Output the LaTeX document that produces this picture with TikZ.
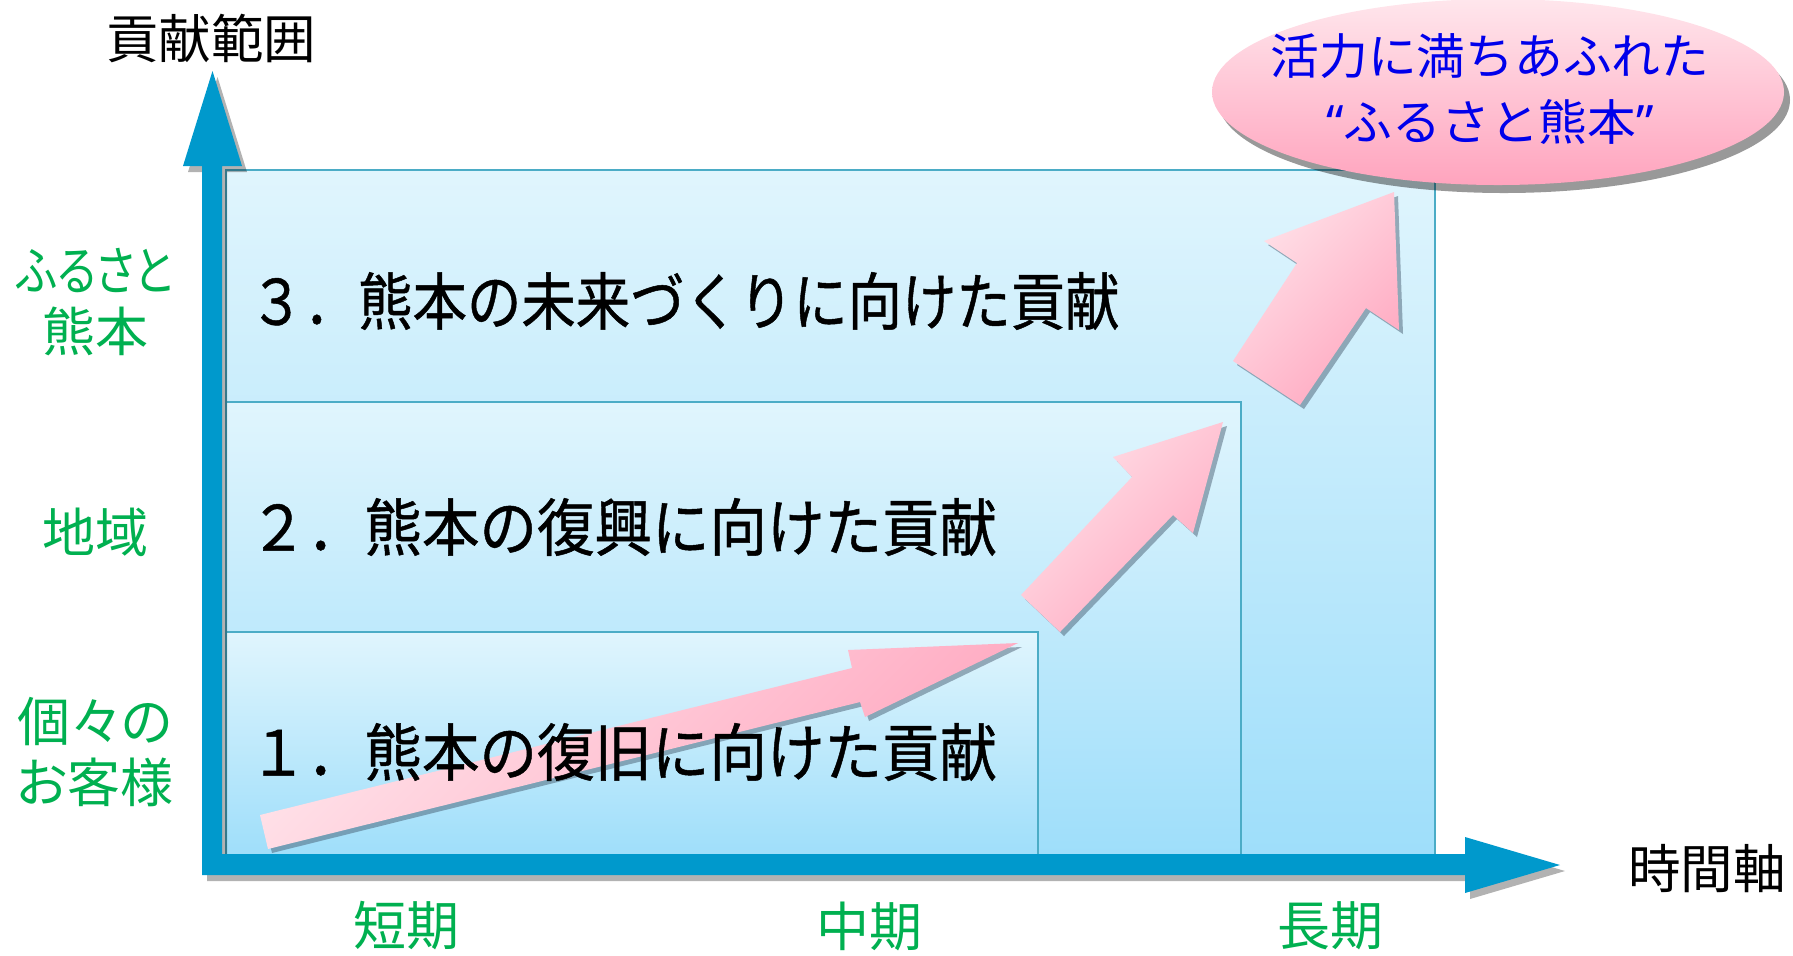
\documentclass[tikz,border=0pt]{standalone}
\usepackage{fontspec}
\newfontfamily\jp{Noto Sans CJK JP}
\newfontfamily\jpb{Noto Sans CJK JP}[FakeBold=0.8]
\newfontfamily\jpp{Noto Sans CJK JP}[RawFeature=+palt]
\newfontfamily\quotefont{Noto Sans}
\usetikzlibrary{shadows,shapes.geometric}
\definecolor{axisblue}{RGB}{0,153,204}
\definecolor{boxtop}{RGB}{224,245,253}
\definecolor{boxbot}{RGB}{158,222,250}
\definecolor{boxline}{RGB}{75,172,198}
\definecolor{lblgreen}{RGB}{0,176,80}
\definecolor{pinkL}{RGB}{255,226,233}
\definecolor{pinkD}{RGB}{255,168,192}
\definecolor{ellL}{RGB}{255,230,236}
\definecolor{ellD}{RGB}{255,164,190}
\definecolor{elltext}{RGB}{0,0,235}
\definecolor{shadowc}{RGB}{60,80,100}
\begin{document}
\begin{tikzpicture}[x=0.4pt,y=-0.4pt,
  band/.style={draw=boxline, line width=0.7pt, top color=boxtop, bottom color=boxbot},
  pinkarrow/.style={top color=pinkL, bottom color=pinkD, shading angle=45,
    drop shadow={shadow xshift=1.6pt, shadow yshift=-1.6pt, opacity=0.45, fill=shadowc}},
  axisstyle/.style={fill=axisblue,
    drop shadow={shadow xshift=2pt, shadow yshift=-2.4pt, opacity=0.3, fill=black}},
  bandtext/.style={anchor=west, inner sep=0pt, font=\jpb\fontsize{25pt}{28pt}\selectfont, text=black},
  greenlbl/.style={align=center, inner sep=0pt, text=lblgreen, font=\jpp\fontsize{21.2pt}{24.4pt}\selectfont},
  axislbl/.style={inner sep=0pt, text=black, font=\jp\fontsize{21pt}{24pt}\selectfont},
]
\useasboundingbox (0,0) rectangle (1793,955);

% bands
\path[band] (226,170) rectangle (1435,858);
\path[band] (226,402) rectangle (1241,858);
\path[band] (226,632) rectangle (1038,858);

% axes
\path[axisstyle] (202,875) -- (202,166) -- (183,166) -- (212.5,71) -- (242,166) -- (222,166)
  -- (222,854) -- (1465,854) -- (1465,837) -- (1560,865) -- (1465,893) -- (1465,875) -- cycle;

% pink arrows
\path[pinkarrow] (260,815) -- (852,668) -- (848,650) -- (1018,643) -- (865,717) -- (860,702) -- (268,849) -- cycle;
\path[pinkarrow] (1021,595) -- (1132,477) -- (1113,457) -- (1223,422) -- (1193,533) -- (1173,515) -- (1060,632) -- cycle;
\path[pinkarrow] (1233,361) -- (1297,263) -- (1264,241) -- (1394,192) -- (1399,330) -- (1366,308) -- (1300,405) -- cycle;

% band texts
\node[bandtext] (t3) at (249,301) {\scalebox{0.87}[1]{３．熊本の未来づくりに向けた貢献}};
\node[bandtext] (t2) at (249,527) {\scalebox{0.92}[1]{２．熊本の復興に向けた貢献}};
\node[bandtext] (t1) at (249,752) {\scalebox{0.92}[1]{１．熊本の復旧に向けた貢献}};

% goal ellipse
\node[ellipse, minimum width=228.8pt, minimum height=74.4pt, top color=ellL, bottom color=ellD,
  drop shadow={shadow xshift=2.4pt, shadow yshift=-3.2pt, opacity=0.4, fill=black}] (goal) at (1498,92) {};
\node[align=center, inner sep=0pt, text=elltext, font=\jp\fontsize{19.5pt}{26.4pt}\selectfont] (goaltext) at (1490,89)
  {活力に満ちあふれた\\{\quotefont “}ふるさと熊本{\quotefont ”}};

% axis labels
\node[axislbl] (ylabel) at (211,38) {貢献範囲};
\node[axislbl] (xlabel) at (1707,869) {時間軸};

% left labels
\node[greenlbl] (l3) at (95,302) {\scalebox{0.82}[1]{ふるさと}\\熊本};
\node[greenlbl] (l2) at (95,532) {地域};
\node[greenlbl] (l1) at (95,752) {個々の\\お客様};

% bottom labels
\node[greenlbl] (b1) at (406,926) {短期};
\node[greenlbl] (b2) at (869,926) {中期};
\node[greenlbl] (b3) at (1330,926) {長期};
\end{tikzpicture}
\end{document}
